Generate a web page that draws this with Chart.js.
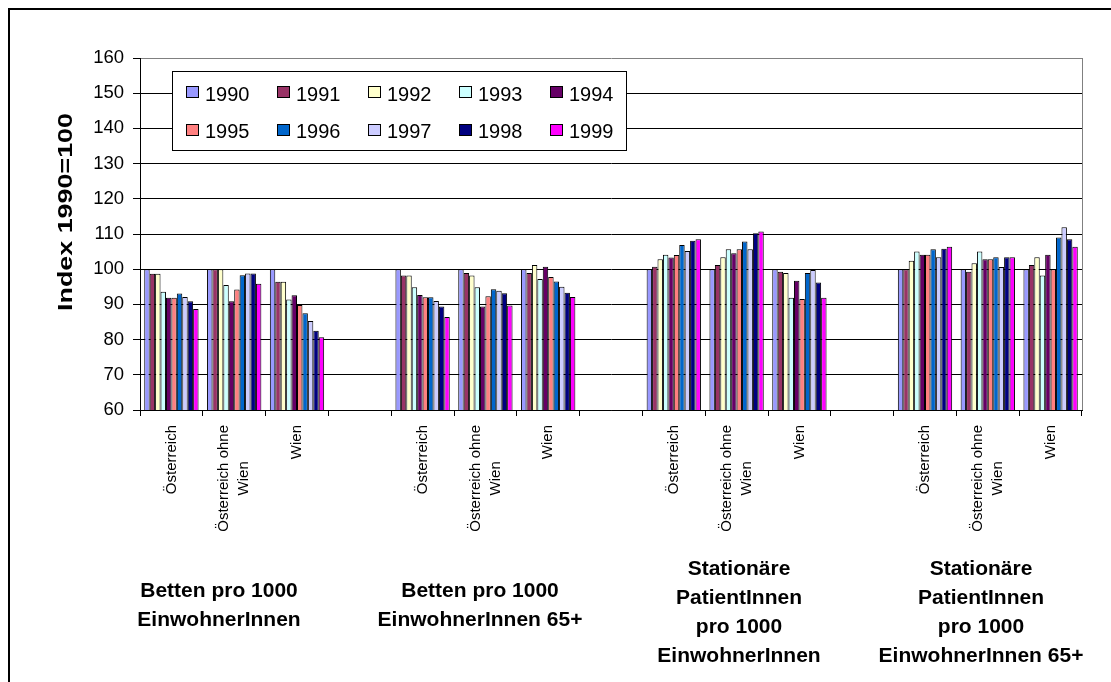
<!DOCTYPE html>
<html>
<head>
<meta charset="utf-8">
<title>Index 1990=100</title>
<script src="https://cdn.jsdelivr.net/npm/chart.js@4.4.1/dist/chart.umd.min.js"></script>
<style>
  html, body { margin: 0; padding: 0; background: #ffffff; }
  #wrap { position: relative; width: 1111px; height: 682px; }
  canvas { display: block; }
</style>
</head>
<body>
<div id="wrap"><canvas id="chart" width="1111" height="682"></canvas></div>
<script>
// Categories: three regions per indicator, with an empty slot between indicators
const categories = [
  ['Österreich'], ['Österreich ohne', 'Wien'], ['Wien'], [''],
  ['Österreich'], ['Österreich ohne', 'Wien'], ['Wien'], [''],
  ['Österreich'], ['Österreich ohne', 'Wien'], ['Wien'], [''],
  ['Österreich'], ['Österreich ohne', 'Wien'], ['Wien']
];

const groupTitles = [
  ['Betten pro 1000', 'EinwohnerInnen'],
  ['Betten pro 1000', 'EinwohnerInnen 65+'],
  ['Stationäre', 'PatientInnen', 'pro 1000', 'EinwohnerInnen'],
  ['Stationäre', 'PatientInnen', 'pro 1000', 'EinwohnerInnen 65+']
];

const years = ['1990', '1991', '1992', '1993', '1994', '1995', '1996', '1997', '1998', '1999'];
const yearColors = ['#9999FF', '#993366', '#FFFFCC', '#CCFFFF', '#660066',
                    '#FF8080', '#0066CC', '#CCCCFF', '#000080', '#FF00FF'];

const yTicks = [60, 70, 80, 90, 100, 110, 120, 130, 140, 150, 160];
const yTitle = 'Index 1990=100';

// Index values (1990 = 100) per year, in category order
const v1990 = [100, 100, 100, null, 100, 100, 100, null, 100, 100, 100, null, 100, 100, 100];
const v1991 = [98.7, 100, 96.4, null, 98.2, 98.9, 98.9, null, 100.7, 101.2, 99.3, null, 100, 99.3, 101.2];
const v1992 = [98.7, 100, 96.4, null, 98.2, 98.2, 101.2, null, 102.8, 103.4, 98.9, null, 102.4, 101.7, 103.4];
const v1993 = [93.6, 95.5, 91.4, null, 94.9, 94.9, 97.2, null, 104.1, 105.7, 91.9, null, 105.0, 105.0, 98.2];
const v1994 = [91.9, 90.9, 92.6, null, 92.7, 89.4, 100.7, null, 103.3, 104.5, 96.7, null, 104.1, 102.8, 104.1];
const v1995 = [91.9, 94.2, 89.8, null, 92.0, 92.3, 97.8, null, 104.0, 105.7, 91.5, null, 104.1, 102.8, 100];
const v1996 = [93.1, 98.3, 87.5, null, 92.0, 94.3, 96.5, null, 106.9, 107.9, 98.9, null, 105.7, 103.4, 109.0];
const v1997 = [92.1, 98.8, 85.3, null, 91.0, 93.9, 95.0, null, 105.2, 105.7, 99.8, null, 103.4, 100.6, 111.9];
const v1998 = [90.9, 98.8, 82.5, null, 89.4, 93.2, 93.3, null, 108.1, 110.2, 96.2, null, 105.8, 103.4, 108.5];
const v1999 = [88.7, 95.9, 80.7, null, 86.4, 89.7, 92.1, null, 108.5, 110.7, 91.9, null, 106.4, 103.4, 106.4];

const seriesValues = [v1990, v1991, v1992, v1993, v1994, v1995, v1996, v1997, v1998, v1999];

const FONT = '"Liberation Sans", Arial, Helvetica, sans-serif';

// Placement of free-standing text and the legend box
const layoutText = {
  catLabelTop: 425, catFont: 15, catLineGap: 20,
  groupX: [219, 480, 739, 981], groupCenterY: [605.5, 605.5, 612.5, 612.5],
  groupLine: 29, groupFont: 20, groupStretch: 1.05,
  yTitleX: 66, yTitleY: 212, yTitleFont: 21, yTitleStretch: 1.28,
  legend: { x: 172, y: 71, w: 454, h: 79, col0: 186, colStep: 91.1, rows: [92, 129.5], sw: 13, shh: 12, textDx: 19, textFont: 20 }
};

const datasets = years.map((y, i) => ({
  label: y,
  data: seriesValues[i],
  backgroundColor: yearColors[i],
  borderColor: '#000000',
  borderWidth: 1,
  borderSkipped: false,
  barPercentage: 1.0,
  categoryPercentage: 0.865
}));

// Outer frame, grey plot border on the right
const framePlugin = {
  id: 'frame',
  afterDraw(chart) {
    const ctx = chart.ctx;
    const a = chart.chartArea;
    ctx.save();
    ctx.strokeStyle = '#000';
    ctx.lineWidth = 2;
    ctx.strokeRect(9, 9, 1300, 900);
    ctx.strokeStyle = '#808080';
    ctx.lineWidth = 1;
    ctx.beginPath();
    ctx.moveTo(Math.round(a.right) + 0.5, a.top);
    ctx.lineTo(Math.round(a.right) + 0.5, a.bottom);
    ctx.stroke();
    ctx.restore();
  }
};

// Rotated category labels under each slot, lines centred on one another
const categoryLabelPlugin = {
  id: 'categoryLabels',
  afterDraw(chart) {
    const ctx = chart.ctx;
    const xs = chart.scales.x;
    const L = layoutText;
    ctx.save();
    ctx.fillStyle = '#000';
    ctx.font = L.catFont + 'px ' + FONT;
    ctx.textBaseline = 'middle';
    ctx.textAlign = 'center';
    categories.forEach((lines, i) => {
      const text = lines.filter(s => s);
      if (!text.length) return;
      const x = xs.getPixelForValue(i);
      const w = Math.max(...text.map(s => ctx.measureText(s).width));
      ctx.save();
      ctx.translate(x, L.catLabelTop);
      ctx.rotate(-Math.PI / 2);
      text.forEach((s, j) => {
        const v = (j - (text.length - 1) / 2) * L.catLineGap;
        ctx.fillText(s, -w / 2, v);
      });
      ctx.restore();
    });
    ctx.restore();
  }
};

// Indicator titles below the category labels, and the vertical axis title
const groupTitlePlugin = {
  id: 'groupTitles',
  afterDraw(chart) {
    const ctx = chart.ctx;
    const L = layoutText;
    ctx.save();
    ctx.fillStyle = '#000';
    ctx.font = 'bold ' + L.groupFont + 'px ' + FONT;
    ctx.textAlign = 'center';
    ctx.textBaseline = 'middle';
    groupTitles.forEach((lines, g) => {
      lines.forEach((s, j) => {
        const y = L.groupCenterY[g] + (j - (lines.length - 1) / 2) * L.groupLine;
        ctx.save();
        ctx.translate(L.groupX[g], y);
        ctx.scale(L.groupStretch, 1);
        ctx.fillText(s, 0, 0);
        ctx.restore();
      });
    });
    ctx.font = 'bold ' + L.yTitleFont + 'px ' + FONT;
    ctx.translate(L.yTitleX, L.yTitleY);
    ctx.rotate(-Math.PI / 2);
    ctx.scale(L.yTitleStretch, 1);
    ctx.fillText(yTitle, 0, 0);
    ctx.restore();
  }
};

// Boxed legend inside the plot, two rows of five years
const legendPlugin = {
  id: 'boxLegend',
  afterDraw(chart) {
    const ctx = chart.ctx;
    const g = layoutText.legend;
    ctx.save();
    ctx.fillStyle = '#fff';
    ctx.fillRect(g.x, g.y, g.w, g.h);
    ctx.strokeStyle = '#000';
    ctx.lineWidth = 1;
    ctx.strokeRect(g.x + 0.5, g.y + 0.5, g.w, g.h);
    ctx.font = g.textFont + 'px ' + FONT;
    ctx.textAlign = 'left';
    ctx.textBaseline = 'middle';
    chart.data.datasets.forEach((ds, i) => {
      const col = i % 5, row = Math.floor(i / 5);
      const sx = Math.round(g.col0 + col * g.colStep);
      const cy = g.rows[row];
      const sy = Math.round(cy - g.shh / 2);
      ctx.fillStyle = ds.backgroundColor;
      ctx.fillRect(sx, sy, g.sw, g.shh);
      ctx.strokeStyle = '#000';
      ctx.strokeRect(sx + 0.5, sy + 0.5, g.sw - 1, g.shh - 1);
      ctx.fillStyle = '#000';
      ctx.fillText(ds.label, sx + g.textDx, cy + 3);
    });
    ctx.restore();
  }
};

new Chart(document.getElementById('chart'), {
  type: 'bar',
  data: { labels: categories, datasets },
  options: {
    responsive: false,
    animation: false,
    devicePixelRatio: 1,
    layout: { padding: { top: 58, right: 29, left: 0, bottom: 0 } },
    plugins: { legend: { display: false }, tooltip: { enabled: false } },
    scales: {
      x: {
        grid: { offset: true, drawOnChartArea: false, color: '#000', tickLength: 6 },
        border: { color: '#000', width: 1 },
        ticks: { display: false },
        afterFit(scale) { scale.height = 272; }
      },
      y: {
        min: yTicks[0],
        max: yTicks[yTicks.length - 1],
        afterBuildTicks(scale) { scale.ticks = yTicks.map(v => ({ value: v })); },
        ticks: {
          color: '#000',
          padding: 9,
          font: { family: FONT, size: 18.5 }
        },
        grid: {
          color: (c) => (c.tick && c.tick.value === 160 ? '#808080' : '#000'),
          tickColor: '#000',
          tickLength: 7
        },
        border: { color: '#000', width: 1 },
        afterFit(scale) { scale.width = 140; }
      }
    }
  },
  plugins: [framePlugin, categoryLabelPlugin, groupTitlePlugin, legendPlugin]
});
</script>
</body>
</html>
